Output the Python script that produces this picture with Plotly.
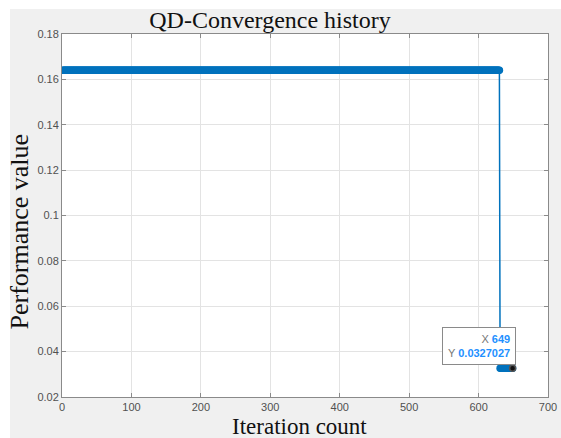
import numpy as np
import plotly.graph_objects as go

# Convergence history: constant stretches of the performance value
stage_values = [0.164, 0.0327027]
stage_lengths = [630, 19]

perf = np.repeat(stage_values, stage_lengths)
iters = np.arange(1, len(perf) + 1)

tip_x = int(iters[-1])
tip_y = float(perf[-1])

blue = "#0072BD"
serif = "Liberation Serif, Times New Roman, serif"

W, H = 561, 438
ml, mr, mt, mb = 62, 13, 34, 41
pw, ph = W - ml - mr, H - mt - mb

fig = go.Figure()
fig.add_trace(go.Scatter(
    x=iters, y=perf, mode="lines+markers",
    line=dict(color=blue, width=1.5),
    marker=dict(color=blue, size=7.5, symbol="circle", line=dict(width=0)),
    showlegend=False, hoverinfo="skip",
))
# highlighted data-tip point
fig.add_trace(go.Scatter(
    x=[tip_x], y=[tip_y], mode="markers",
    marker=dict(color="#111111", size=6, line=dict(color="#555555", width=1.5)),
    showlegend=False, hoverinfo="skip",
))

axis_common = dict(
    showline=True, linecolor="#8a8a8a", linewidth=1, mirror="ticks",
    ticks="inside", ticklen=4, tickcolor="#8a8a8a", automargin=False,
    showgrid=True, gridcolor="#e3e3e3", gridwidth=1, zeroline=False,
    tickfont=dict(family="Arial, Liberation Sans, sans-serif", size=11, color="#505050"),
)

fig.update_xaxes(range=[0, 700], dtick=100, tick0=0, **axis_common)
fig.update_yaxes(range=[0.02, 0.18], dtick=0.02, tick0=0.02, **axis_common)

# axis titles
fig.add_annotation(
    text="Iteration count", xref="paper", yref="paper",
    x=(299 - ml) / pw, y=-(413 - (H - mb)) / ph, xanchor="center", yanchor="top",
    showarrow=False, borderpad=0,
    font=dict(family=serif, size=23, color="#111111"),
)
fig.add_annotation(
    text="Performance value", xref="paper", yref="paper", textangle=-90,
    x=(4 - ml) / pw, y=((H - mb) - 232) / ph, xanchor="left", yanchor="middle",
    showarrow=False, borderpad=0,
    font=dict(family=serif, size=26, color="#111111"),
)

# data tip
fig.add_annotation(
    x=tip_x, y=tip_y, xref="x", yref="y",
    text=("<span style='color:#777777'>X</span> <b>%d</b><br>"
          "<span style='color:#777777'>Y</span> <b>%s</b>") % (tip_x, f"{tip_y:g}"),
    showarrow=False, xanchor="right", yanchor="bottom", align="right",
    xshift=3, yshift=3,
    font=dict(family="Arial, Liberation Sans, sans-serif", size=11, color="#1E90FF"),
    bgcolor="white", bordercolor="#8a8a8a", borderwidth=1, borderpad=5,
)

# white strips along the left and top edges of the page
fig.add_shape(type="rect", xref="paper", yref="paper", layer="below",
              x0=-ml / pw - 0.01, x1=(10 - ml) / pw, y0=-mb / ph - 0.01, y1=1 + mt / ph + 0.01,
              fillcolor="white", line=dict(width=0))
fig.add_shape(type="rect", xref="paper", yref="paper", layer="below",
              x0=-ml / pw - 0.01, x1=1 + mr / pw + 0.01, y0=1 + (mt - 9) / ph, y1=1 + mt / ph + 0.01,
              fillcolor="white", line=dict(width=0))

fig.update_layout(
    width=W, height=H,
    margin=dict(l=ml, r=mr, t=mt, b=mb, autoexpand=False),
    paper_bgcolor="#f0f0f0", plot_bgcolor="white",
    title=dict(text="QD-Convergence history", x=270 / W, xanchor="center",
               y=1 - 28 / H, yanchor="bottom", automargin=False,
               font=dict(family=serif, size=24, color="#111111")),
)

fig.write_html("out.html")
